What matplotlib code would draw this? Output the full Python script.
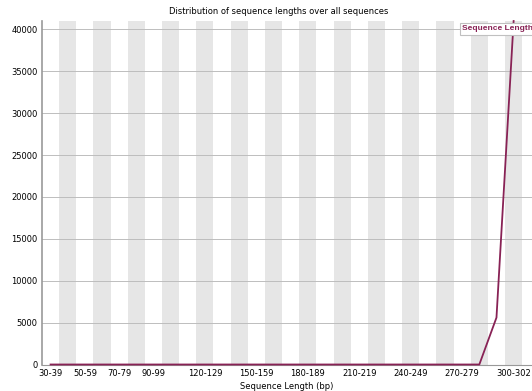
import numpy as np
import matplotlib
matplotlib.use("Agg")
import matplotlib.pyplot as plt

# length bins (bp) and read counts per bin
categories = ["30-39", "40-49", "50-59", "60-69", "70-79", "80-89", "90-99",
              "100-109", "110-119", "120-129", "130-139", "140-149", "150-159",
              "160-169", "170-179", "180-189", "190-199", "200-209", "210-219",
              "220-229", "230-239", "240-249", "250-259", "260-269", "270-279",
              "280-289", "290-299", "300-302"]
counts = [0] * 26 + [5600, 41000]
shown_labels = ["30-39", "50-59", "70-79", "90-99", "120-129", "150-159",
                "180-189", "210-219", "240-249", "270-279", "300-302"]
y_ticks = list(range(0, 40001, 5000))

line_col = (136 / 255, 34 / 255, 85 / 255)

W, H = 532, 391
fig = plt.figure(figsize=(W / 100, H / 100), dpi=100)
left, right, top, bottom = 42, 532, 21, 364.5
ax = fig.add_axes([left / W, 1 - bottom / H, (right - left) / W, (bottom - top) / H])

x = np.arange(len(categories))
step = 17.15
ax.set_xlim(-0.5, -0.5 + (right - left) / step)
ax.set_ylim(0, 41000)

# alternating grey stripes
for i in x:
    if i % 2 == 1:
        ax.axvspan(i - 0.5, i + 0.5, color="#e6e6e6", lw=0, zorder=0)

for t in y_ticks:
    ax.axhline(t, color="#bdbdbd", lw=0.7, zorder=1)

ax.plot(x, counts, color=line_col, lw=1.3, zorder=3, clip_on=False)

ax.set_xticks(x)
ax.set_xticklabels([c if c in shown_labels else "" for c in categories], fontsize=6)
ax.set_yticks(y_ticks)
ax.set_yticklabels([str(t) for t in y_ticks], fontsize=6)
ax.tick_params(length=0, pad=3)

for s in ["top", "right"]:
    ax.spines[s].set_visible(False)
ax.spines["left"].set_color("#999999")
ax.spines["left"].set_linewidth(1.2)
ax.spines["bottom"].set_color("#999999")

ax.set_xlabel("Sequence Length (bp)", fontsize=6, labelpad=3)
fig.text(279 / W, 1 - 11 / H, "Distribution of sequence lengths over all sequences",
         fontsize=6, ha="center", va="center")

# legend box
fig.text(462 / W, 1 - 28.5 / H, "Sequence Length", fontsize=6, fontweight="bold",
         family="Liberation Sans", color=line_col, ha="left", va="center",
         bbox=dict(boxstyle="square,pad=0.3", fc="white", ec="#c0c0c0", lw=0.8),
         zorder=5)

fig.savefig("out.png", dpi=100)
